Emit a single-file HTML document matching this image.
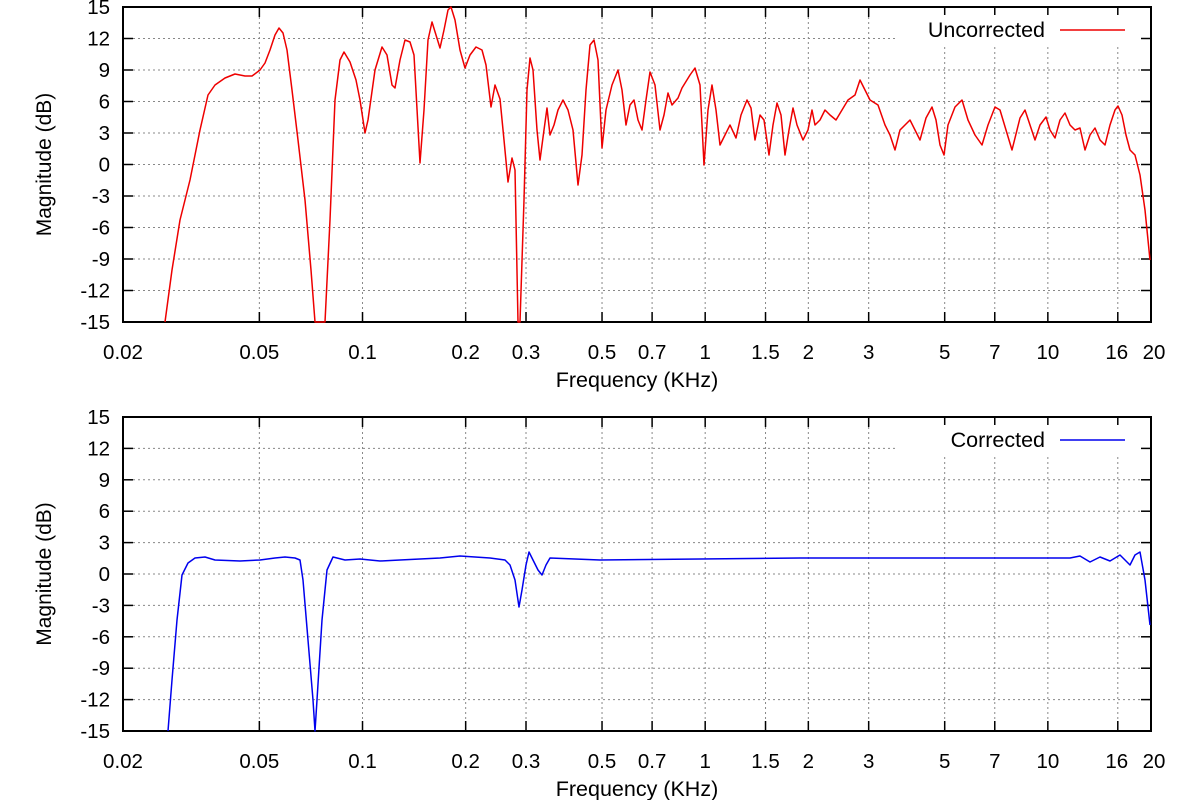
<!DOCTYPE html>
<html><head><meta charset="utf-8"><style>body{margin:0;background:#fff}svg{display:block;font-family:"Liberation Sans",sans-serif}</style></head>
<body>
<svg id="s" width="1200" height="800" xmlns="http://www.w3.org/2000/svg"></svg>
<script>
const s=document.getElementById('s');let h='';
const L=123,R=1151,dec=(R-L)/3;
const fx=f=>L+Math.log10(f/0.02)*dec;
const ticks=[0.02,0.05,0.1,0.2,0.3,0.5,0.7,1,1.5,2,3,5,7,10,16,20];
const labs=["0.02","0.05","0.1","0.2","0.3","0.5","0.7","1","1.5","2","3","5","7","10","16","20"];
function panel(T,B,name,col,pts){
 const yy=d=>T+(15-d)*(B-T)/30;
 for(let d=-12;d<=12;d+=3){const y=yy(d);
  let x2=(d==12)?895:R;
  h+=`<line x1="${L}" x2="${x2}" y1="${y}" y2="${y}" stroke="#888" stroke-dasharray="2,3"/>`;}
 ticks.forEach((f,i)=>{const x=fx(f);
  if(i>0&&i<ticks.length-1)h+=`<line x1="${x}" x2="${x}" y1="${T}" y2="${B}" stroke="#888" stroke-dasharray="2,3"/>`;
  h+=`<line x1="${x}" x2="${x}" y1="${B}" y2="${B-10}" stroke="#000" stroke-width="1.5"/><line x1="${x}" x2="${x}" y1="${T}" y2="${T+10}" stroke="#000" stroke-width="1.5"/>`;
  let tx=x; if(labs[i]=="16")tx=x-1; if(labs[i]=="20")tx=x+3;
  h+=`<text x="${tx}" y="${B+37}" font-size="20.5" text-anchor="middle">${labs[i]}</text>`;});
 h+=`<rect x="905" y="${T+8}" width="233" height="30" fill="#fff"/>`;
 for(let d=-15;d<=15;d+=3){const y=yy(d);
  h+=`<line x1="${L}" x2="${L+10}" y1="${y}" y2="${y}" stroke="#000" stroke-width="1.5"/><line x1="${R-10}" x2="${R}" y1="${y}" y2="${y}" stroke="#000" stroke-width="1.5"/>`;
  h+=`<text x="110" y="${y+7}" font-size="20.5" text-anchor="end">${d}</text>`;}
 h+=`<rect x="${L}" y="${T}" width="${R-L}" height="${B-T}" fill="none" stroke="#000" stroke-width="2"/>`;
 h+=`<text x="1045" y="${T+30}" font-size="21.5" text-anchor="end">${name}</text><line x1="1060" x2="1125" y1="${T+23}" y2="${T+23}" stroke="${col}" stroke-width="1.5"/>`;
 h+=`<polyline points="${pts}" fill="none" stroke="${col}" stroke-width="1.5" stroke-linejoin="round"/>`;
 h+=`<text x="637" y="${B+65}" font-size="21.5" text-anchor="middle">Frequency (KHz)</text>`;
 h+=`<text transform="translate(51,${(T+B)/2}) rotate(-90)" font-size="21" text-anchor="middle">Magnitude (dB)</text>`;
}
const p1="165,322 172,270 180,220 190,180 200,130 208,95 215,85 225,78 235,74 245,76 252,76 260,70 265,63 270,50 275,35 279,28 283,33 287,50 292,90 298,140 305,200 311,270 315,322 325,322 330,220 335,100 340,60 344,52 350,62 356,80 360,100 365,133 368,120 375,70 382,47 387,55 392,85 395,88 400,60 405,40 410,42 414,55 420,163 424,110 428,40 432,22 436,35 440,48 444,30 448,10 451,7 455,20 460,50 465,68 470,55 476,47 482,50 486,65 491,107 495,85 500,99 504,140 508,182 512,158 515,170 518,322 520,322 524,200 527,90 530,58 533,70 537,130 540,160 544,130 547,108 550,135 554,125 558,110 563,100 568,110 573,130 578,185 582,155 586,90 590,45 594,40 598,60 602,148 606,110 612,85 618,70 622,90 626,125 630,105 634,100 638,120 642,130 646,100 650,72 655,85 660,130 664,115 668,93 672,105 678,98 682,88 690,75 695,68 700,85 704,165 708,110 712,85 716,110 720,145 725,135 730,125 736,138 741,115 747,100 751,108 755,140 760,115 764,120 769,155 773,125 777,103 781,115 785,155 789,130 793,108 797,125 803,140 808,130 812,110 815,125 820,120 825,110 830,115 836,120 842,110 848,100 855,95 860,80 865,90 870,100 878,105 885,125 890,135 895,150 900,130 905,125 910,120 915,130 920,140 926,118 932,107 936,120 940,145 944,155 948,125 955,107 962,100 968,120 975,135 982,145 988,125 995,107 1000,110 1006,130 1012,150 1020,118 1025,110 1030,125 1035,140 1040,125 1046,117 1050,130 1055,138 1060,120 1065,113 1070,125 1075,130 1080,128 1085,150 1090,135 1095,128 1100,140 1105,145 1110,125 1115,110 1118,106 1122,115 1126,135 1130,150 1135,155 1140,175 1145,210 1150,260";
const p2="168,731 172,680 177,620 182,575 188,563 195,558 205,557 215,560 240,561 260,560 275,558 285,557 295,558 300,560 303,580 308,640 313,700 315,731 317,700 322,620 327,570 333,557 345,560 360,559 380,561 400,560 420,559 440,558 460,556 490,558 505,560 510,565 515,580 519,607 522,590 526,565 529,552 533,560 538,570 542,575 546,565 550,558 600,560 700,559 800,558 900,558 1000,558 1070,558 1080,556 1090,562 1100,557 1110,561 1120,555 1130,565 1135,555 1140,552 1145,580 1150,625";
panel(7,322,"Uncorrected","#e00",p1);
panel(417,731,"Corrected","#00e",p2);
s.innerHTML=h;
</script>
</body></html>
